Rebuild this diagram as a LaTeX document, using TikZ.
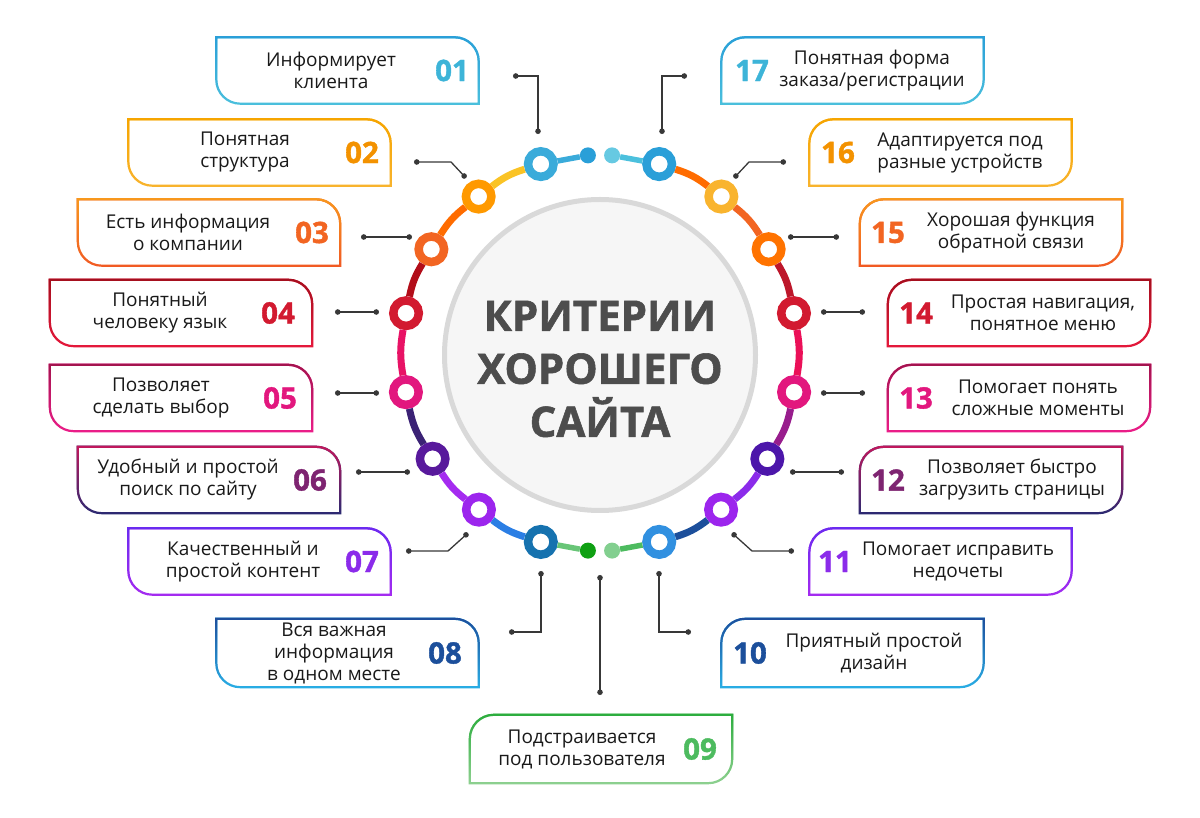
\documentclass[tikz,border=0pt]{standalone}
\usepackage{fontspec}
\setmainfont{Open Sans}
\newfontfamily\heavyfont[FakeBold=1.3]{Open Sans}
\usetikzlibrary{arrows.meta,fadings}

\definecolor{ccyan}{HTML}{3DB4D8}
\definecolor{camber}{HTML}{F39200}
\definecolor{corange}{HTML}{F26522}
\definecolor{cred}{HTML}{D21A30}
\definecolor{cpink}{HTML}{E2177E}
\definecolor{cplum}{HTML}{7E2471}
\definecolor{cviolet}{HTML}{8B2BEA}
\definecolor{cnavy}{HTML}{1C4F9B}
\definecolor{cgreen}{HTML}{4DBB5F}
\definecolor{titlegray}{HTML}{4D4D4D}
% frame colours, top / bottom
\definecolor{fcyanT}{HTML}{2A9FD8}\definecolor{fcyanB}{HTML}{4BC0DD}
\definecolor{famberT}{HTML}{F6A500}\definecolor{famberB}{HTML}{F9B42E}
\definecolor{forangeT}{HTML}{F8981D}\definecolor{forangeB}{HTML}{F15A24}
\definecolor{fredT}{HTML}{A50F1E}\definecolor{fredB}{HTML}{E6193C}
\definecolor{fpinkT}{HTML}{A3144E}\definecolor{fpinkB}{HTML}{EC1E8A}
\definecolor{fplumT}{HTML}{C2185C}\definecolor{fplumB}{HTML}{2A2A72}
\definecolor{fvioletT}{HTML}{6A2BF0}\definecolor{fvioletB}{HTML}{A52BF0}
\definecolor{fnavyT}{HTML}{1E4E9C}\definecolor{fnavyB}{HTML}{2AAFE6}
\definecolor{fgreenT}{HTML}{2CAD3E}\definecolor{fgreenB}{HTML}{8FD191}

% left frame: round top right and bottom left
\newcommand{\frameL}[3]{%
  \draw[frame,draw=#3,postaction={draw=#2,path fading=south}]
    (#1.north west) -- ([xshift=-24pt]#1.north east)
    arc[start angle=90,end angle=0,radius=24pt]
    -- (#1.south east) -- ([xshift=24pt]#1.south west)
    arc[start angle=270,end angle=180,radius=24pt] -- cycle;}
% right frame: round top left and bottom right
\newcommand{\frameR}[3]{%
  \draw[frame,draw=#3,postaction={draw=#2,path fading=south}]
    ([xshift=24pt]#1.north west) -- (#1.north east)
    -- ([yshift=24pt]#1.south east)
    arc[start angle=0,end angle=-90,radius=24pt]
    -- (#1.south west) -- ([yshift=-24pt]#1.north west)
    arc[start angle=180,end angle=90,radius=24pt] -- cycle;}

\begin{document}
\begin{tikzpicture}[x=1pt,y=1pt]
  \tikzstyle{box}=[rectangle,minimum width=262pt,minimum height=66pt,inner sep=0pt]
  \tikzstyle{frame}=[line width=2.2pt]
  \tikzstyle{txt}=[align=center,text=black!90,font=\fontsize{19}{22}\selectfont]
  \tikzstyle{num}=[inner sep=0pt,font=\fontsize{29.5}{30}\heavyfont\bfseries]
  \tikzstyle{heading}=[align=center,text=titlegray,font=\fontsize{42}{53}\heavyfont\bfseries]
  \tikzstyle{ring}=[circle,draw,line width=8.5pt,fill=white,minimum size=25.5pt,inner sep=0pt]
  \tikzstyle{dot}=[circle,minimum size=16pt,inner sep=0pt]
  \tikzstyle{band}=[line width=7pt]
  \tikzstyle{stub}=[line width=5.5pt]
  \tikzstyle{link}=[draw=black!78,line width=1.3pt,{Circle[length=5.5pt]}-{Circle[length=5.5pt]}]
  \useasboundingbox (0,0) rectangle (1200,817);

  % centre
  \node [circle,minimum size=311pt,fill=gray!7,draw=gray!30,line width=5pt] (hub) at (600,462) {};
  \node [heading] (title) at (600,448) {КРИТЕРИИ\\ХОРОШЕГО\\САЙТА};

  % ring
  \begin{scope}[shift={(600,464)}]
    \node [ring,draw=ccyan!95!blue] (r01) at (107.4:198) {};
    \node [ring,draw=orange!80!yellow] (r02) at (127.8:198) {};
    \node [ring,draw=corange] (r03) at (148.4:198) {};
    \node [ring,draw=cred] (r04) at (168.4:198) {};
    \node [ring,draw=cpink] (r05) at (191.4:198) {};
    \node [ring,draw=cplum!70!blue] (r06) at (212.3:198) {};
    \node [ring,draw=cviolet!85!magenta] (r07) at (232.3:198) {};
    \node [ring,draw=cnavy!80!cyan] (r08) at (252.6:198) {};
    \node [ring,draw=ccyan!80!blue] (r10) at (-72.6:198) {};
    \node [ring,draw=cviolet!85!magenta] (r11) at (-52.3:198) {};
    \node [ring,draw=cplum!60!blue] (r12) at (-32.3:198) {};
    \node [ring,draw=cpink] (r13) at (-11.4:198) {};
    \node [ring,draw=cred] (r14) at (11.6:198) {};
    \node [ring,draw=orange!90!red] (r15) at (31.6:198) {};
    \node [ring,draw=famberB] (r16) at (52.2:198) {};
    \node [ring,draw=fcyanT] (r17) at (72.6:198) {};
    \node [dot,fill=fcyanT] (d1) at (93.5:198) {};
    \node [dot,fill=fcyanB!85!white] (d2) at (86.5:198) {};
    \node [dot,fill=green!60!black!80!cgreen] (d3) at (266.5:198) {};
    \node [dot,fill=cgreen!70!white] (d4) at (273.5:198) {};
  \end{scope}
  \draw [stub,draw=ccyan!95!blue] (r01) -- (d1);
  \draw [stub,draw=fcyanB] (r17) -- (d2);
  \draw [stub,draw=cgreen!85!white] (r08) -- (d3);
  \draw [stub,draw=cgreen] (r10) -- (d4);
  \draw [band,draw=famberB!80!yellow] (r01) to[bend right=10] (r02);
  \draw [band,draw=orange!85!red] (r02) to[bend right=10] (r03);
  \draw [band,draw=fredT!85!red] (r03) to[bend right=10] (r04);
  \draw [band,draw=cpink!80!red] (r04) to[bend right=10] (r05);
  \draw [band,draw=fplumB!80!violet] (r05) to[bend right=10] (r06);
  \draw [band,draw=fvioletB] (r06) to[bend right=10] (r07);
  \draw [band,draw=ccyan!70!blue] (r07) to[bend right=10] (r08);
  \draw [band,draw=orange!85!red] (r17) to[bend left=10] (r16);
  \draw [band,draw=corange] (r16) to[bend left=10] (r15);
  \draw [band,draw=cred!90!black] (r15) to[bend left=10] (r14);
  \draw [band,draw=cpink!70!red] (r14) to[bend left=10] (r13);
  \draw [band,draw=cplum!80!magenta] (r13) to[bend left=10] (r12);
  \draw [band,draw=cviolet] (r12) to[bend left=10] (r11);
  \draw [band,draw=cnavy] (r11) to[bend left=10] (r10);

  % boxes, left
  \node [box] (b01) at (347.5,746.5) {};
  \frameL{b01}{fcyanT}{fcyanB}
  \node [txt] (t01) at (331,746.5) {Информирует\\клиента};
  \node [num,text=ccyan] (n01) at (452,746.5) {01};
  \node [box] (b02) at (259.5,664.5) {};
  \frameL{b02}{famberT}{famberB}
  \node [txt] (t02) at (245,664.5) {Понятная\\структура};
  \node [num,text=camber] (n02) at (362,664.5) {02};
  \node [box] (b03) at (209,584.5) {};
  \frameL{b03}{forangeT}{forangeB}
  \node [txt] (t03) at (188,584.5) {Есть информация\\о компании};
  \node [num,text=corange] (n03) at (312,584.5) {03};
  \node [box] (b04) at (181,504) {};
  \frameL{b04}{fredT}{fredB}
  \node [txt] (t04) at (160,504) {Понятный\\человеку язык};
  \node [num,text=cred] (n04) at (278,504) {04};
  \node [box] (b05) at (181,419) {};
  \frameL{b05}{fpinkT}{fpinkB}
  \node [txt] (t05) at (161,419) {Позволяет\\сделать выбор};
  \node [num,text=cpink] (n05) at (280,419) {05};
  \node [box] (b06) at (209,337) {};
  \frameL{b06}{fplumT}{fplumB}
  \node [txt] (t06) at (188,337) {Удобный и простой\\поиск по сайту};
  \node [num,text=cplum] (n06) at (310,337) {06};
  \node [box] (b07) at (259.5,255.5) {};
  \frameL{b07}{fvioletT}{fvioletB}
  \node [txt] (t07) at (243,255.5) {Качественный и\\простой контент};
  \node [num,text=cviolet] (n07) at (362,255.5) {07};
  \node [box,minimum height=68pt] (b08) at (347.5,164) {};
  \frameL{b08}{fnavyT}{fnavyB}
  \node [txt] (t08) at (334,164) {Вся важная\\информация\\в одном месте};
  \node [num,text=cnavy] (n08) at (445,164) {08};

  % boxes, bottom and right
  \node [box,minimum height=68pt] (b09) at (601,68) {};
  \frameR{b09}{fgreenT}{fgreenB}
  \node [txt] (t09) at (582,68) {Подстраивается\\под пользователя};
  \node [num,text=cgreen] (n09) at (700,68) {09};
  \node [box,minimum height=68pt] (b10) at (852.5,164) {};
  \frameR{b10}{fnavyT}{fnavyB}
  \node [num,text=cnavy] (n10) at (750,164) {10};
  \node [txt] (t10) at (874,164) {Приятный простой\\дизайн};
  \node [box] (b11) at (940.5,255.5) {};
  \frameR{b11}{fvioletT}{fvioletB}
  \node [num,text=cviolet] (n11) at (835,255.5) {11};
  \node [txt] (t11) at (958,255.5) {Помогает исправить\\недочеты};
  \node [box] (b12) at (991,337) {};
  \frameR{b12}{fplumT}{fplumB}
  \node [num,text=cplum] (n12) at (888,337) {12};
  \node [txt] (t12) at (1012,337) {Позволяет быстро\\загрузить страницы};
  \node [box] (b13) at (1019,419) {};
  \frameR{b13}{fpinkT}{fpinkB}
  \node [num,text=cpink] (n13) at (916,419) {13};
  \node [txt] (t13) at (1038,419) {Помогает понять\\сложные моменты};
  \node [box] (b14) at (1019,504) {};
  \frameR{b14}{fredT}{fredB}
  \node [num,text=cred] (n14) at (916,504) {14};
  \node [txt] (t14) at (1043,504) {Простая навигация,\\понятное меню};
  \node [box] (b15) at (991,584.5) {};
  \frameR{b15}{forangeT}{forangeB}
  \node [num,text=corange] (n15) at (888,584.5) {15};
  \node [txt] (t15) at (1011,584.5) {Хорошая функция\\обратной связи};
  \node [box] (b16) at (940.5,664.5) {};
  \frameR{b16}{famberT}{famberB}
  \node [num,text=camber] (n16) at (838,664.5) {16};
  \node [txt] (t16) at (960,664.5) {Адаптируется под\\разные устройств};
  \node [box] (b17) at (852.5,746.5) {};
  \frameR{b17}{fcyanT}{fcyanB}
  \node [num,text=ccyan] (n17) at (752,746.5) {17};
  \node [txt] (t17) at (872,746.5) {Понятная форма\\заказа/регистрации};

  % pointers
  \coordinate (k01) at (513,741); \coordinate (m01) at (538,683);
  \coordinate (k02) at (414,655); \coordinate (m02) at (466,639);
  \coordinate (k03) at (361,580); \coordinate (m03) at (412,580);
  \coordinate (k04) at (335,505); \coordinate (m04) at (379,505);
  \coordinate (k05) at (335,424); \coordinate (m05) at (379,424);
  \coordinate (k06) at (356,345); \coordinate (m06) at (410,345);
  \coordinate (k07) at (406,266); \coordinate (m07) at (468,284);
  \coordinate (k08) at (509,185); \coordinate (m08) at (541,246);
  \coordinate (k09) at (600,122); \coordinate (m09) at (600,242);
  \coordinate (k10) at (691,185); \coordinate (m10) at (659,246);
  \coordinate (k11) at (794,266); \coordinate (m11) at (732,284);
  \coordinate (k12) at (844,345); \coordinate (m12) at (790,345);
  \coordinate (k13) at (865,424); \coordinate (m13) at (821,424);
  \coordinate (k14) at (865,505); \coordinate (m14) at (821,505);
  \coordinate (k15) at (839,580); \coordinate (m15) at (788,580);
  \coordinate (k16) at (786,655); \coordinate (m16) at (734,639);
  \coordinate (k17) at (687,741); \coordinate (m17) at (662,683);
  \draw [link] (k01) -| (m01);
  \draw [link] (k02) -- ++(37,0) -- (m02);
  \draw [link] (k03) -- (m03);
  \draw [link] (k04) -- (m04);
  \draw [link] (k05) -- (m05);
  \draw [link] (k06) -- (m06);
  \draw [link] (k07) -- ++(42,0) -- (m07);
  \draw [link] (k08) -| (m08);
  \draw [link] (k09) -- (m09);
  \draw [link] (k10) -| (m10);
  \draw [link] (k11) -- ++(-42,0) -- (m11);
  \draw [link] (k12) -- (m12);
  \draw [link] (k13) -- (m13);
  \draw [link] (k14) -- (m14);
  \draw [link] (k15) -- (m15);
  \draw [link] (k16) -- ++(-37,0) -- (m16);
  \draw [link] (k17) -| (m17);
\end{tikzpicture}
\end{document}
